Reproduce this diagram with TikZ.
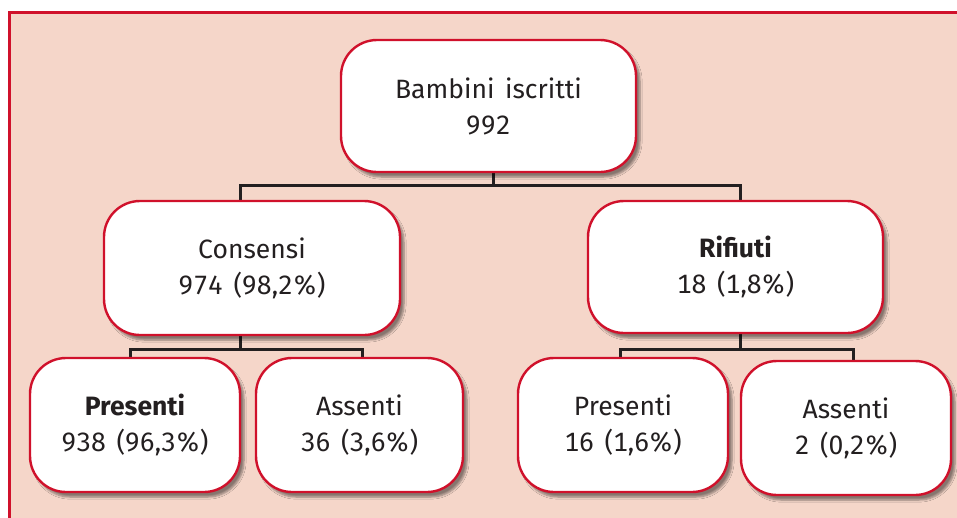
\documentclass[tikz,border=0pt]{standalone}
\usepackage{fontspec}
\setmainfont{Fira Sans}[Numbers=Monospaced, WordSpace=1.5]
\usetikzlibrary{shadows.blur,backgrounds}
\definecolor{framered}{HTML}{D0112B}
\definecolor{framefill}{HTML}{F5D6C9}
\definecolor{ink}{HTML}{231F20}
\tikzset{
  box/.style={draw=framered, line width=2.4pt, fill=white, rounded corners=36pt,
    align=center, text=ink, inner sep=0pt, font=\fontsize{26.5}{36}\selectfont,
    blur shadow={shadow xshift=4pt, shadow yshift=-5pt, shadow blur steps=6, shadow opacity=45}},
  conn/.style={draw=ink, line width=3pt}
}
\begin{document}
\begin{tikzpicture}[x=1pt,y=-1pt]
\clip (0,0) rectangle (957,517);
\node[box, minimum width=295pt, minimum height=132pt] (top) at (488.5,106) {Bambini iscritti\\992};
\node[box, minimum width=296pt, minimum height=134pt] (cons) at (252,268) {Consensi\\974 (98,2\%)};
\node[box, minimum width=295pt, minimum height=132pt] (rif) at (735.5,267) {\textbf{Rifiuti}\\18 (1,8\%)};
\node[box, minimum width=210pt, minimum height=134pt] (pl) at (135,425) {\textbf{Presenti}\\938 (96,3\%)};
\node[box, minimum width=207pt, minimum height=134pt] (al) at (359.5,425) {Assenti\\36 (3,6\%)};
\node[box, minimum width=210pt, minimum height=134pt] (pr) at (623,425) {Presenti\\16 (1,6\%)};
\node[box, minimum width=210pt, minimum height=134pt] (ar) at (846,428) {Assenti\\2 (0,2\%)};
\begin{pgfonlayer}{background}
\fill[white] (0,0) rectangle (957,517);
\fill[framefill] (9.5,12) rectangle (980,540);
\draw[framered, line width=3pt] (9.5,540) -- (9.5,12) -- (980,12);
\coordinate (j1) at (493,185);
\coordinate (j2) at (240,349);
\coordinate (j3) at (740,349);
\draw[conn] (top.south -| j1) -- (j1);
\draw[conn] (j1) -| ([xshift=-12pt]cons.north);
\draw[conn] (j1) -| ([xshift=4.5pt]rif.north);
\draw[conn] (cons.south -| j2) -- (j2);
\draw[conn] (j2) -| ([xshift=-5pt]pl.north);
\draw[conn] (j2) -| ([xshift=2.5pt]al.north);
\draw[conn] (rif.south -| j3) -- (j3);
\draw[conn] (j3) -| ([xshift=-3pt]pr.north);
\draw[conn] (j3) -| ([xshift=7pt]ar.north);
\end{pgfonlayer}
\end{tikzpicture}
\end{document}
